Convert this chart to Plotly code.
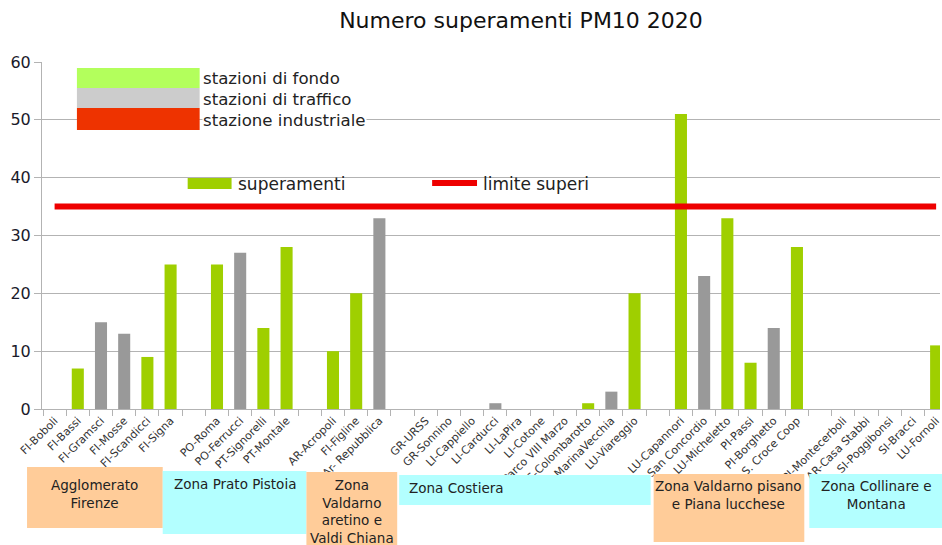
import plotly.graph_objects as go

stations = ["FI-Boboli", "FI-Bassi", "FI-Gramsci", "FI-Mosse", "FI-Scandicci", "FI-Signa", "",
            "PO-Roma", "PO-Ferrucci", "PT-Signorelli", "PT-Montale", "",
            "AR-Acropoli", "FI-Figline", "Ar- Repubblica", "",
            "GR-URSS", "GR-Sonnino", "LI-Cappiello", "LI-Carducci", "LI-LaPira", "LI-Cotone",
            "Parco VIII Marzo", "MS-Colombarotto", "MS-MarinaVecchia", "LU-Viareggio", "",
            "LU-Capannori", "LU-San Concordio", "LU-Micheletto", "PI-Passi", "PI-Borghetto",
            "PI-S. Croce Coop", "",
            "PI-Montecerboli", "AR-Casa Stabbi", "SI-Poggibonsi", "SI-Bracci", "LU-Fornoli"]
superamenti = [0, 7, 15, 13, 9, 25, 0,
               25, 27, 14, 28, 0,
               10, 20, 33, 0,
               0, 0, 0, 1, 0, 0, 0, 1, 3, 20, 0,
               51, 23, 33, 8, 14, 28, 0,
               0, 0, 0, 0, 11]
station_type = ["F", "F", "T", "T", "F", "F", "",
                "F", "T", "F", "F", "",
                "F", "F", "T", "",
                "F", "T", "F", "T", "F", "T", "F", "F", "T", "F", "",
                "F", "T", "F", "F", "T", "F", "",
                "F", "F", "F", "T", "F"]
limite = 35
yticks = [0, 10, 20, 30, 40, 50, 60]

zones = ["Agglomerato<br>Firenze", "Zona Prato Pistoia",
         "Zona<br>Valdarno<br>aretino e<br>Valdi Chiana", "Zona Costiera",
         "Zona Valdarno pisano<br>e Piana lucchese", "Zona Collinare e<br>Montana"]
legend_types = ["stazioni di fondo", "stazioni di traffico", "stazione industriale"]

W, H = 942, 545
L, R, T, B = 42, 942, 62, 409  # plot area in window pixels

FONT = "DejaVu Sans, Liberation Sans, Arial, sans-serif"


def px(x):
    return (x - L) / (R - L)


def py(y):
    return (B - y) / (B - T)


xs = list(range(1, len(stations) + 1))
colors = ["#9fcf00" if t == "F" else "#999999" for t in station_type]

fig = go.Figure()
fig.add_trace(go.Bar(x=xs, y=superamenti, marker=dict(color=colors, line=dict(width=0)),
                     width=0.52, showlegend=False, name="superamenti"))
fig.add_trace(go.Scatter(x=xs, y=[limite] * len(xs), mode="lines",
                         line=dict(color="#ee0000", width=6), showlegend=False,
                         name="limite superi"))

per_cat = 23.25
x_start = 0.5 - 1 / per_cat
fig.update_layout(
    width=W, height=H,
    margin=dict(l=L, r=W - R, t=T, b=H - B),
    plot_bgcolor="white", paper_bgcolor="white",
    font=dict(family=FONT, color="#222"),
    title=dict(text="Numero superamenti PM10 2020", x=521 / W, xanchor="center",
               y=1 - 20 / H, yanchor="middle", font=dict(size=22, color="#111")),
    xaxis=dict(range=[x_start, x_start + (R - L) / per_cat], tickvals=xs, ticktext=stations,
               tickangle=-45, ticks="", tickfont=dict(size=11, color="#333"),
               showgrid=False, showline=True, linecolor="#b3b3b3", linewidth=1,
               zeroline=False, ticklabeloverflow="allow",
               minor=dict(tickvals=[x + 0.5 for x in range(0, len(xs) + 1)],
                          ticks="outside", ticklen=6, tickcolor="#b3b3b3", showgrid=False)),
    yaxis=dict(range=[0, 60], tickvals=yticks, ticks="outside", ticklen=7,
               tickcolor="#b3b3b3", tickfont=dict(size=16, color="#1a1a2a"),
               showgrid=True, gridcolor="#b3b3b3", gridwidth=1, showline=True,
               linecolor="#b3b3b3", zeroline=False),
)

shapes = []
annotations = []

# type legend (top left)
type_cols = ["#b3ff5c", "#cccccc", "#ee3300"]
rows = [(68, 88), (88, 108), (108, 130)]
for (y0, y1), c, t in zip(rows, type_cols, legend_types):
    shapes.append(dict(type="rect", xref="paper", yref="paper", x0=px(77), x1=px(200),
                       y0=py(y1), y1=py(y0), fillcolor=c, line=dict(width=0), layer="above"))
    annotations.append(dict(xref="paper", yref="paper", x=px(202), y=py((y0 + y1) / 2 + 1),
                            text=t, showarrow=False, xanchor="left", yanchor="middle",
                            font=dict(size=16.6, color="#222"), bgcolor="white", borderpad=0))

# series legend
shapes.append(dict(type="rect", xref="paper", yref="paper", x0=px(188), x1=px(232),
                   y0=py(189), y1=py(178), fillcolor="#9fcf00", line=dict(width=0)))
annotations.append(dict(xref="paper", yref="paper", x=px(236), y=py(184), text="superamenti",
                        showarrow=False, xanchor="left", yanchor="middle",
                        font=dict(size=17, color="#222")))
shapes.append(dict(type="line", xref="paper", yref="paper", x0=px(433), x1=px(478),
                   y0=py(183), y1=py(183), line=dict(color="#ee0000", width=6)))
annotations.append(dict(xref="paper", yref="paper", x=px(482), y=py(184), text="limite superi",
                        showarrow=False, xanchor="left", yanchor="middle",
                        font=dict(size=17, color="#222")))

# zone boxes (window pixels): x0, x1, y0, y1, colour, alignment, first text line centre
zone_boxes = [(27, 163, 467, 528, "#ffcc99", "center", 485),
              (163, 307, 471, 534, "#b3ffff", "center", 484),
              (307, 398, 472, 548, "#ffcc99", "center", 485),
              (400, 652, 475, 505, "#b3ffff", "left", 488),
              (655, 806, 474, 542, "#ffcc99", "center", 486),
              (811, 945, 474, 528, "#b3ffff", "center", 486)]
for (x0, x1, y0, y1, c, al, tc), z in zip(zone_boxes, zones):
    shapes.append(dict(type="rect", xref="paper", yref="paper", x0=px(x0), x1=px(x1),
                       y0=py(y1), y1=py(y0), fillcolor=c, line=dict(width=0)))
    if al == "left":
        ax, xa = px(x0 + 9), "left"
    else:
        ax, xa = px((x0 + x1) / 2), "center"
    annotations.append(dict(xref="paper", yref="paper", x=ax, y=py(tc - 9), text=z,
                            showarrow=False, xanchor=xa, yanchor="top", align="center",
                            font=dict(size=13.5, color="#222"), borderpad=0))

fig.update_layout(shapes=shapes, annotations=annotations)
fig.write_html("out.html", config={"displayModeBar": False},
               post_script="document.body.style.margin='0';document.body.style.overflow='hidden';")
